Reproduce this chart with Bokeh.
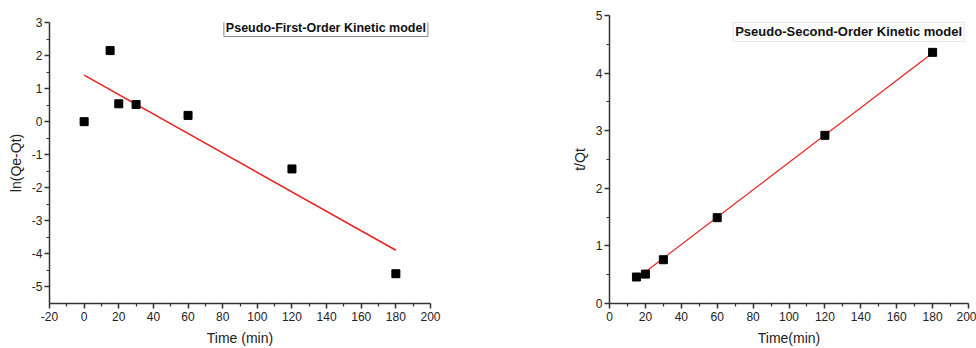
from bokeh.plotting import figure
from bokeh.layouts import row, column
from bokeh.models import Label, FixedTicker
from bokeh.embed import file_html
from bokeh.resources import INLINE

# Pseudo-first-order data
t1 = [0, 15, 20, 30, 60, 120, 180]
ln_qe_qt = [0.0, 2.15, 0.54, 0.52, 0.19, -1.43, -4.6]
fit1_x = [0, 180]
fit1_y = [1.41, -3.89]

# Pseudo-second-order data
t2 = [15, 20, 30, 60, 120, 180]
t_over_qt = [0.46, 0.51, 0.76, 1.49, 2.92, 4.36]
fit2_x = [15, 180]
fit2_y = [0.43, 4.35]

x1_ticks = [-20, 0, 20, 40, 60, 80, 100, 120, 140, 160, 180, 200]
y1_ticks = [-5, -4, -3, -2, -1, 0, 1, 2, 3]
x2_ticks = [0, 20, 40, 60, 80, 100, 120, 140, 160, 180, 200]
y2_ticks = [0, 1, 2, 3, 4, 5]

FONT = "Liberation Sans"


def style(p, xlabel, ylabel, xt, yt):
    p.grid.visible = False
    p.outline_line_color = None
    p.background_fill_color = "white"
    p.border_fill_color = "white"
    for ax in (p.xaxis[0], p.yaxis[0]):
        ax.axis_line_color = "#333333"
        ax.axis_line_width = 1.5
        ax.major_tick_line_color = "#333333"
        ax.major_tick_line_width = 1.5
        ax.minor_tick_line_color = "#333333"
        ax.minor_tick_line_width = 1.2
        ax.major_tick_out = 5
        ax.major_tick_in = 0
        ax.minor_tick_out = 3
        ax.minor_tick_in = 0
        ax.major_label_text_font = FONT
        ax.major_label_text_font_size = "12px"
        ax.major_label_text_color = "#222222"
        ax.axis_label_text_font = FONT
        ax.axis_label_text_font_size = "14px"
        ax.axis_label_text_font_style = "normal"
        ax.axis_label_text_color = "#222222"
    p.xaxis[0].axis_label = xlabel
    p.yaxis[0].axis_label = ylabel
    p.xaxis[0].ticker = FixedTicker(ticks=xt, minor_ticks=[(a + b) / 2 for a, b in zip(xt[:-1], xt[1:])])
    p.yaxis[0].ticker = FixedTicker(ticks=yt, minor_ticks=[(a + b) / 2 for a, b in zip(yt[:-1], yt[1:])])
    p.xaxis[0].major_label_overrides = {v: str(v) for v in xt}
    p.yaxis[0].major_label_overrides = {v: str(v) for v in yt}
    p.xaxis[0].major_label_standoff = 3
    p.xaxis[0].axis_label_standoff = 6
    p.yaxis[0].major_label_standoff = 2
    p.yaxis[0].axis_label_standoff = 5


p1 = figure(width=450, height=348, x_range=(-20, 200), y_range=(-5.5, 3),
            output_backend="svg", toolbar_location=None,
            min_border_left=49, min_border_right=20, min_border_top=22, min_border_bottom=42)
style(p1, "Time (min)", "ln(Qe-Qt)", x1_ticks, y1_ticks)
p1.line(fit1_x, fit1_y, line_color="#e8211d", line_width=1.5)
p1.scatter(t1, ln_qe_qt, marker="square", size=8, fill_color="black", line_color="black")
p1.add_layout(Label(x=198.5, y=3.12, text="Pseudo-First-Order Kinetic model",
                    text_align="right", text_baseline="top",
                    text_font=FONT, text_font_size="12.5px", text_font_style="bold",
                    text_color="#111111",
                    border_line_color="#888888", border_line_width=1,
                    background_fill_color="white", padding=2))

p2 = figure(width=526, height=348, x_range=(0, 200), y_range=(0, 5),
            output_backend="svg", toolbar_location=None,
            min_border_left=159, min_border_right=8, min_border_top=15, min_border_bottom=43)
style(p2, "Time(min)", "t/Qt", x2_ticks, y2_ticks)
p2.line(fit2_x, fit2_y, line_color="#e8211d", line_width=1.2)
p2.scatter(t2, t_over_qt, marker="square", size=8, fill_color="black", line_color="black")
p2.add_layout(Label(x=197.5, y=4.88, text="Pseudo-Second-Order Kinetic model",
                    text_align="right", text_baseline="top",
                    text_font=FONT, text_font_size="13px", text_font_style="bold",
                    text_color="#111111",
                    border_line_color="#e4e4e4", border_line_width=1,
                    background_fill_color="white", padding=2))

layout = row(column(p1), column(p2), spacing=0)
open("out.html", "w").write(file_html(layout, INLINE))
